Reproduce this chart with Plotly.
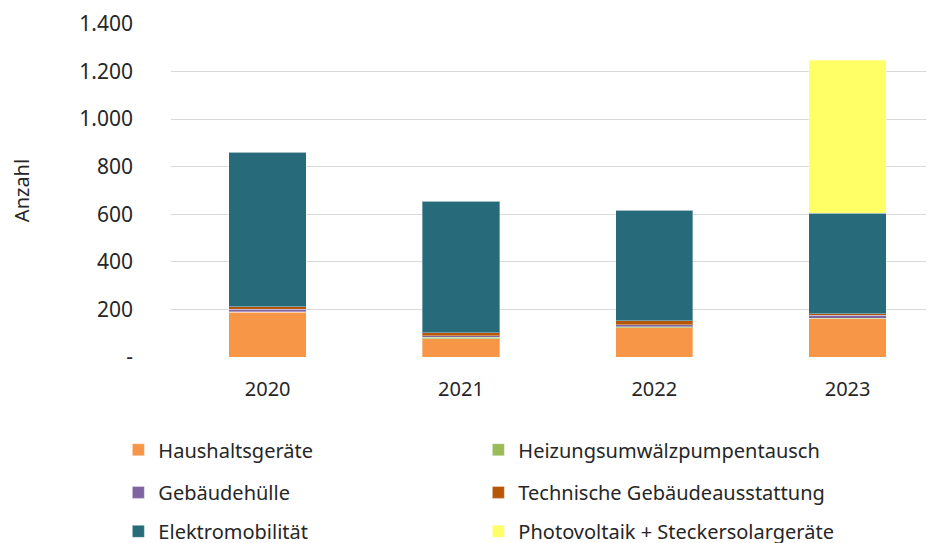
import plotly.graph_objects as go

years = ["2020", "2021", "2022", "2023"]
haushalt = [188, 76, 122, 160]
heizung = [3, 7, 6, 2]
gebaeudehuelle = [10, 7, 7, 13]
technik = [10, 13, 17, 7]
elektro = [649, 552, 465, 423]
photovoltaik = [0, 0, 0, 642]

series_names = ["Haushaltsgeräte", "Heizungsumwälzpumpentausch", "Gebäudehülle",
                "Technische Gebäudeausstattung", "Elektromobilität",
                "Photovoltaik + Steckersolargeräte"]
series_values = [haushalt, heizung, gebaeudehuelle, technik, elektro, photovoltaik]
colors = ["#F79646", "#9BBB59", "#8064A2", "#B65708", "#276A7A", "#FFFF66"]
legend_ids = ["legend", "legend", "legend2", "legend2", "legend3", "legend3"]

ytick_vals = [0, 200, 400, 600, 800, 1000, 1200, 1400]
ytick_text = ["-", "200", "400", "600", "800", "1.000", "1.200", "1.400"]

FONT = "Noto Sans"
TXT = "#262626"
fig = go.Figure()
for name, vals, col, lg in zip(series_names, series_values, colors, legend_ids):
    fig.add_trace(go.Bar(x=years, y=vals, name=name, legend=lg,
                         marker=dict(color=col, line=dict(color="rgba(255,255,255,0.35)", width=1))))

legend_common = dict(orientation="h", x=-0.069, xanchor="left", yanchor="top",
                     traceorder="normal",
                     entrywidth=315, entrywidthmode="pixels",
                     font=dict(family=FONT, size=20, color=TXT),
                     bgcolor="rgba(0,0,0,0)", itemclick=False, itemdoubleclick=False)

fig.update_layout(
    width=926, height=535,
    margin=dict(l=163, r=0, t=16, b=186, autoexpand=False),
    barmode="stack", bargap=0.6,
    paper_bgcolor="white", plot_bgcolor="white",
    font=dict(family=FONT, size=20, color=TXT),
    showlegend=True,
    legend=dict(y=-0.22, **legend_common),
    legend2=dict(y=-0.348, **legend_common),
    legend3=dict(y=-0.465, **legend_common),
    yaxis=dict(range=[0, 1400], tickvals=ytick_vals, ticktext=ytick_text,
               showgrid=True, gridcolor="#D9D9D9", gridwidth=1, zeroline=False,
               showline=False, ticklabelstandoff=37,
               tickfont=dict(family=FONT, size=21, color=TXT),
               title=dict(text="Anzahl", font=dict(family=FONT, size=20, color=TXT), standoff=52)),
    xaxis=dict(showline=False, ticks="", ticklabelstandoff=18, range=[-0.5, 3.447],
               tickfont=dict(family=FONT, size=20, color=TXT)),
)

fig.write_html("out.html")
